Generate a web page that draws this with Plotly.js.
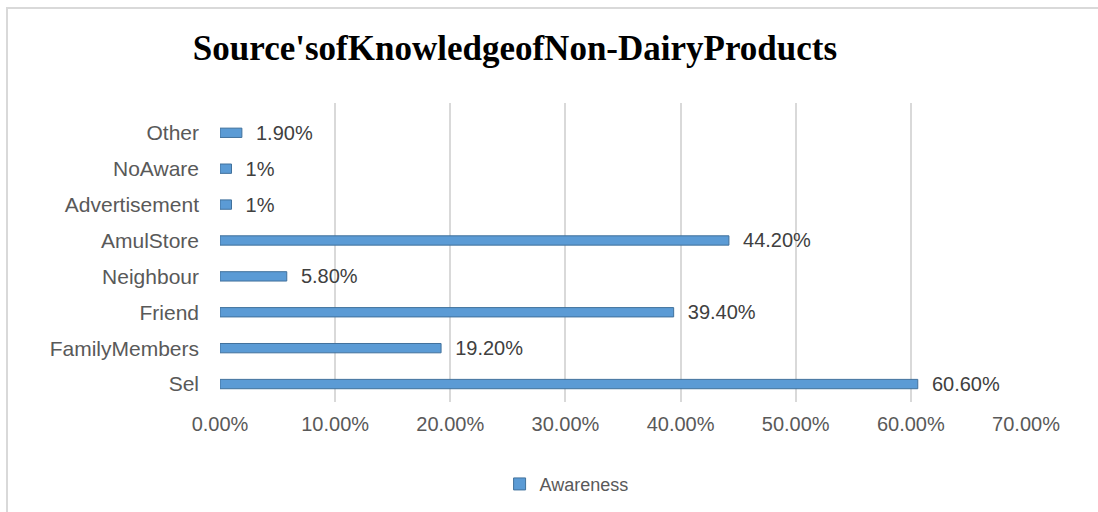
<!DOCTYPE html>
<html>
<head>
<meta charset="utf-8">
<script src="https://cdn.plot.ly/plotly-3.0.1.min.js"></script>
<style>
  html, body { margin: 0; padding: 0; background: #ffffff; }
  #wrap { position: relative; width: 1098px; height: 512px; overflow: hidden; }
  #chart { position: absolute; left: 0; top: 0; width: 1098px; height: 512px; }
  #frame { position: absolute; left: 6px; top: 7px; width: 1200px; height: 600px;
           border-left: 2px solid #d9d9d9; border-top: 2px solid #d9d9d9; pointer-events: none; }
</style>
</head>
<body>
<div id="wrap">
  <div id="chart"></div>
  <div id="frame"></div>
</div>
<script>
const categories = ["Sel", "FamilyMembers", "Friend", "Neighbour", "AmulStore", "Advertisement", "NoAware", "Other"];
const awareness = [60.6, 19.2, 39.4, 5.8, 44.2, 1, 1, 1.9];
const valueLabels = ["60.60%", "19.20%", "39.40%", "5.80%", "44.20%", "1%", "1%", "1.90%"];
const tickValues = [0, 10, 20, 30, 40, 50, 60, 70];
const tickLabels = ["0.00%", "10.00%", "20.00%", "30.00%", "40.00%", "50.00%", "60.00%", "70.00%"];

const trace = {
  type: 'bar',
  orientation: 'h',
  name: 'Awareness',
  y: categories,
  x: awareness,
  text: valueLabels,
  texttemplate: '  %{text}',
  textposition: 'outside',
  constraintext: 'none',
  cliponaxis: false,
  textfont: { family: 'Liberation Sans, Arial, sans-serif', size: 20, color: '#404040' },
  marker: { color: '#5b9bd5', line: { color: '#41719c', width: 1 } },
  hoverinfo: 'none'
};

const layout = {
  width: 1098,
  height: 512,
  paper_bgcolor: '#ffffff',
  plot_bgcolor: '#ffffff',
  margin: { l: 220, r: 72, t: 103, b: 110, autoexpand: false },
  bargap: 0.74,
  showlegend: true,
  title: {
    text: "<b>Source'sofKnowledgeofNon-DairyProducts</b>",
    font: { family: 'Liberation Serif, Times New Roman, serif', size: 35, color: '#000000' },
    xref: 'container', x: 0.469, xanchor: 'center',
    yref: 'container', y: 0.906, yanchor: 'middle'
  },
  xaxis: {
    range: [0, 70],
    tickvals: tickValues,
    ticktext: tickLabels,
    showgrid: true,
    gridcolor: '#d9d9d9',
    gridwidth: 2,
    zeroline: false,
    showline: false,
    ticks: '',
    ticklabelstandoff: 8,
    tickfont: { family: 'Liberation Sans, Arial, sans-serif', size: 20, color: '#595959' },
    fixedrange: true
  },
  yaxis: {
    type: 'category',
    categoryorder: 'array',
    categoryarray: categories,
    range: [-0.5, 7.83],
    showgrid: false,
    zeroline: false,
    showline: false,
    ticks: '',
    ticklabelstandoff: 20,
    tickfont: { family: 'Liberation Sans, Arial, sans-serif', size: 21, color: '#595959' },
    fixedrange: true
  },
  legend: {
    orientation: 'h',
    xref: 'paper', x: 0.43, xanchor: 'center',
    yref: 'paper', y: -0.275, yanchor: 'middle',
    font: { family: 'Liberation Sans, Arial, sans-serif', size: 18, color: '#595959' },
    itemwidth: 30
  }
};

Plotly.newPlot('chart', [trace], layout, { displayModeBar: false, staticPlot: true });
</script>
</body>
</html>
